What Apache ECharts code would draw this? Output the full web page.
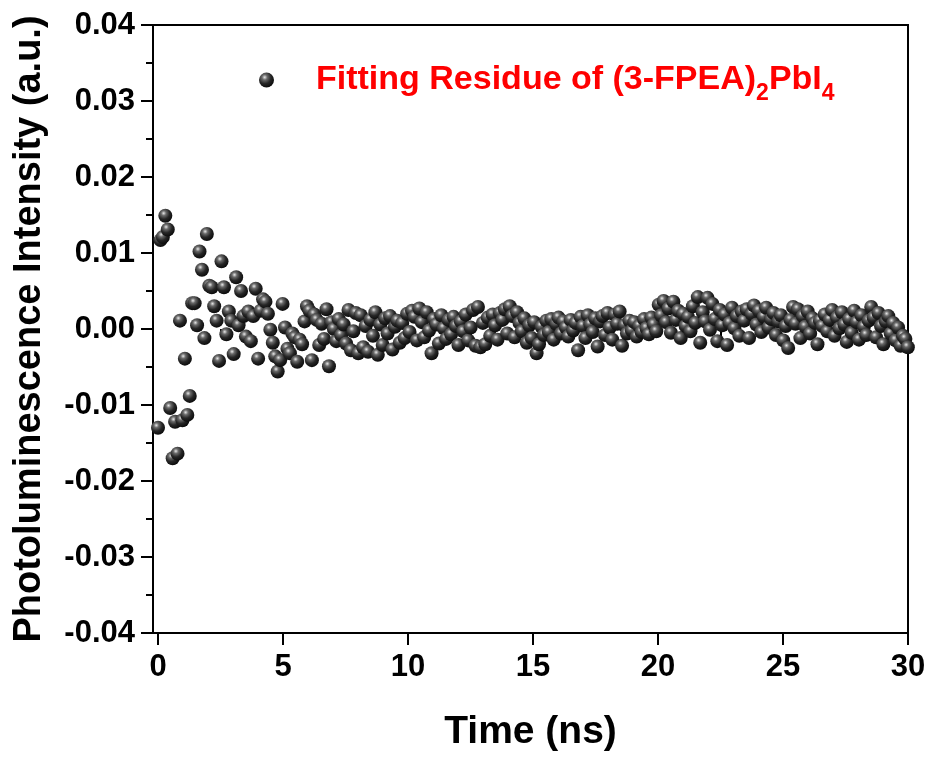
<!DOCTYPE html>
<html>
<head>
<meta charset="utf-8">
<script src="https://cdn.jsdelivr.net/npm/echarts@6/dist/echarts.min.js"></script>
<style>
html,body{margin:0;padding:0;background:#fff;}
#chart{width:933px;height:758px;}
</style>
</head>
<body>
<div id="chart"></div>
<script>
// sampling grid of the decay measurement (ns per channel)
const timeStep = 0.0977;
// fitting residue values, one per channel
const residue = [
-0.0130, 0.0117, 0.0121, 0.0149, 0.0131, -0.0104, -0.0170, -0.0122, -0.0164, 0.0011,
-0.0120, -0.0039, -0.0113, -0.0088, 0.0034, 0.0034, 0.0005, 0.0102, 0.0078, -0.0012,
0.0125, 0.0057, 0.0055, 0.0030, 0.0011, -0.0042, 0.0089, 0.0055, -0.0007, 0.0023,
0.0011, -0.0033, 0.0068, 0.0005, 0.0050, 0.0017, -0.0010, 0.0023, -0.0016, 0.0017,
0.0053, -0.0039, 0.0024, 0.0039, 0.0036, 0.0020, -0.0001, -0.0018, -0.0036, -0.0056,
-0.0041, 0.0033, 0.0002, -0.0026, -0.0032, -0.0006, -0.0011, -0.0043, -0.0014, -0.0020,
0.0010, 0.0030, 0.0024, -0.0041, 0.0019, 0.0012, -0.0021, 0.0007, -0.0013, 0.0026,
-0.0049, 0.0009, 0.0000, -0.0016, 0.0013, -0.0008, 0.0006, -0.0019, 0.0025, -0.0028,
-0.0003, 0.0021, -0.0032, 0.0018, -0.0024, 0.0004, -0.0030, 0.0012, -0.0009, 0.0022,
-0.0034, 0.0006, -0.0021, 0.0014, -0.0006, 0.0017, -0.0027, 0.0003, 0.0011, -0.0018,
0.0008, -0.0012, 0.0020, -0.0004, 0.0024, 0.0016, -0.0015, 0.0027, 0.0009, -0.0011,
0.0022, -0.0002, -0.0032, 0.0013, 0.0006, -0.0019, 0.0018, 0.0001, -0.0013, 0.0012,
-0.0007, 0.0016, 0.0004, -0.0021, 0.0010, -0.0003, 0.0019, -0.0015, 0.0002, 0.0025,
-0.0022, 0.0029, -0.0024, 0.0008, -0.0020, 0.0015, -0.0009, 0.0019, 0.0005, -0.0014,
0.0021, 0.0012, 0.0026, -0.0006, 0.0030, 0.0017, -0.0011, 0.0022, 0.0008, -0.0003,
0.0014, -0.0018, 0.0005, -0.0012, 0.0009, -0.0032, -0.0020, 0.0003, -0.0008, 0.0011,
-0.0004, 0.0013, -0.0014, 0.0007, 0.0015, -0.0006, 0.0010, 0.0002, -0.0010, 0.0012,
-0.0002, 0.0008, -0.0028, 0.0016, 0.0004, -0.0012, 0.0018, 0.0006, -0.0004, 0.0014,
-0.0023, 0.0010, 0.0017, -0.0008, 0.0021, 0.0002, -0.0014, 0.0019, 0.0007, 0.0023,
-0.0022, 0.0005, -0.0006, 0.0011, -0.0002, 0.0009, -0.0010, 0.0004, -0.0004, 0.0013,
0.0001, -0.0007, 0.0015, 0.0006, -0.0003, 0.0032, 0.0018, 0.0037, 0.0009, 0.0027,
-0.0005, 0.0036, 0.0012, 0.0024, -0.0012, 0.0020, 0.0004, 0.0016, -0.0003, 0.0030,
0.0008, 0.0042, -0.0018, 0.0022, 0.0010, 0.0041, -0.0001, 0.0033, 0.0013, -0.0016,
0.0025, 0.0005, 0.0019, -0.0021, 0.0008, 0.0028, 0.0001, 0.0017, -0.0009, 0.0023,
0.0011, 0.0026, -0.0012, 0.0020, 0.0031, 0.0006, 0.0024, -0.0004, 0.0016, 0.0028,
0.0002, 0.0013, 0.0021, -0.0008, 0.0010, 0.0018, -0.0015, 0.0004, -0.0025, 0.0012,
0.0029, 0.0007, 0.0026, -0.0012, 0.0017, 0.0003, 0.0023, -0.0006, 0.0014, 0.0008,
-0.0020, 0.0011, 0.0004, 0.0019, -0.0003, 0.0012, 0.0025, -0.0009, 0.0015, 0.0001,
0.0022, 0.0006, -0.0017, 0.0013, -0.0005, 0.0024, 0.0009, -0.0014, 0.0018, 0.0003,
-0.0008, 0.0011, 0.0029, 0.0015, -0.0011, 0.0021, 0.0004, -0.0020, 0.0010, 0.0017,
-0.0006, 0.0008, -0.0015, 0.0002, -0.0022, -0.0009, -0.0013, -0.0024
];
const xTicks = [0, 5, 10, 15, 20, 25, 30];
const xMinorTicks = [2.5, 7.5, 12.5, 17.5, 22.5, 27.5];
const seriesName = 'Fitting Residue of (3-FPEA)2PbI4';

const points = residue.map((v, i) => [i * timeStep, v]);

const ball = {
  type: 'radial', x: 0.38, y: 0.32, r: 0.7,
  colorStops: [
    {offset: 0, color: '#e8e8e8'},
    {offset: 0.25, color: '#6a6a6a'},
    {offset: 0.6, color: '#262626'},
    {offset: 1, color: '#0a0a0a'}
  ]
};

const font = 'Liberation Sans, Arial, sans-serif';
const chart = echarts.init(document.getElementById('chart'));
chart.setOption({
  animation: false,
  backgroundColor: '#fff',
  grid: {left: 153, right: 25, top: 25, bottom: 125, show: true, borderColor: '#000', borderWidth: 2},
  legend: {
    left: 254, top: 58, itemWidth: 15, itemHeight: 15, icon: 'circle',
    data: [{name: seriesName, itemStyle: {color: ball}}],
    formatter: () => '{g|}{a|Fitting Residue of (3-FPEA)}{s|2}{a|PbI}{s|4}',
    textStyle: {
      rich: {
        g: {width: 37},
        a: {fontFamily: font, fontWeight: 'bold', fontSize: 34, color: '#ff0000'},
        s: {fontFamily: font, fontWeight: 'bold', fontSize: 23, color: '#ff0000', verticalAlign: 'bottom', padding: [27, 0, 0, 0]}
      }
    },
    itemGap: 10
  },
  xAxis: [{
    type: 'value', min: -0.2, max: 30,
    name: 'Time (ns)', nameLocation: 'middle', nameGap: 80,
    nameTextStyle: {fontFamily: font, fontWeight: 'bold', fontSize: 39, color: '#000'},
    axisLine: {show: true, onZero: false, lineStyle: {color: '#000', width: 2}},
    axisTick: {show: true, inside: false, length: 12, lineStyle: {color: '#000', width: 2}, customValues: xTicks},
    axisLabel: {fontFamily: font, fontWeight: 'bold', fontSize: 31, color: '#000', margin: 19, customValues: xTicks},
    splitLine: {show: false}
  }, {
    type: 'value', min: -0.2, max: 30, position: 'bottom',
    axisLine: {show: false},
    axisTick: {show: true, length: 7, lineStyle: {color: '#000', width: 2}, customValues: xMinorTicks},
    axisLabel: {show: false},
    splitLine: {show: false}
  }],
  yAxis: {
    type: 'value', min: -0.04, max: 0.04, interval: 0.01,
    name: 'Photoluminescence Intensity (a.u.)', nameLocation: 'middle', nameGap: 104,
    nameTextStyle: {fontFamily: font, fontWeight: 'bold', fontSize: 38, color: '#000'},
    axisLine: {show: true, onZero: false, lineStyle: {color: '#000', width: 2}},
    axisTick: {show: true, length: 12, lineStyle: {color: '#000', width: 2}},
    minorTick: {show: true, splitNumber: 2, length: 7, lineStyle: {color: '#000', width: 2}},
    axisLabel: {fontFamily: font, fontWeight: 'bold', fontSize: 31, color: '#000', margin: 18,
      formatter: v => v.toFixed(2)},
    splitLine: {show: false}
  },
  series: [{
    name: seriesName, type: 'scatter', xAxisIndex: 0,
    symbolSize: 14,
    itemStyle: {color: ball, opacity: 1},
    data: points
  }]
});
</script>
</body>
</html>
